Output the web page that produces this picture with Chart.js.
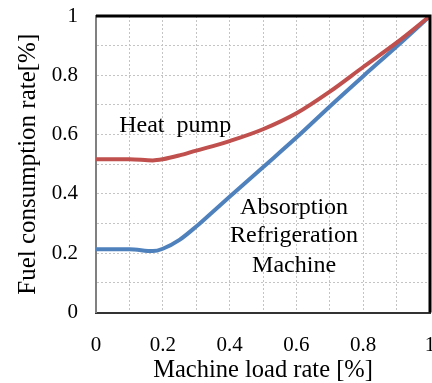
<!DOCTYPE html>
<html>
<head>
<meta charset="utf-8">
<script src="https://cdn.jsdelivr.net/npm/chart.js@4"></script>
<style>
  html, body { margin: 0; padding: 0; background: #fff; overflow: hidden; }
  #wrap { width: 432px; height: 383px; }
</style>
</head>
<body>
<div id="wrap"><canvas id="fuelChart" width="432" height="383"></canvas></div>
<script>
// machine load rate (x) and fuel consumption rate (y)
const loadRate   = [0, 0.1, 0.17, 0.2, 0.25, 0.3, 0.35, 0.4, 0.5, 0.6, 0.7, 0.8, 0.9, 1];
const heatPump   = [0.517, 0.517, 0.513, 0.517, 0.53, 0.546, 0.561, 0.578, 0.618, 0.672, 0.745, 0.828, 0.91, 1];
const absorption = [0.213, 0.213, 0.207, 0.215, 0.245, 0.29, 0.34, 0.39, 0.49, 0.59, 0.695, 0.797, 0.897, 1];

const serif = "'Liberation Serif', 'Times New Roman', serif";

const toPoints = ys => ys.map((y, i) => ({ x: loadRate[i], y: y }));
const tickLabel = v => (Math.round(v * 10) % 2 === 0 ? String(+v.toFixed(1)) : "");

// labels written inside the plot
const notes = [
  { text: "Heat  pump", x: 0.237, y: 0.63 },
  { text: "Absorption", x: 0.593, y: 0.355 },
  { text: "Refrigeration", x: 0.593, y: 0.258 },
  { text: "Machine", x: 0.593, y: 0.157 }
];

const framePlugin = {
  id: "frame",
  afterDatasetsDraw(chart) {
    const { ctx, chartArea: a, scales } = chart;
    ctx.save();
    ctx.strokeStyle = "#000";
    ctx.lineWidth = 3;
    ctx.beginPath();
    ctx.moveTo(a.left, a.top);
    ctx.lineTo(a.right, a.top);
    ctx.lineTo(a.right, a.bottom);
    ctx.stroke();

    ctx.fillStyle = "#000";
    ctx.font = "24px " + serif;
    ctx.textAlign = "center";
    ctx.textBaseline = "middle";
    notes.forEach(n => {
      ctx.fillText(n.text, scales.x.getPixelForValue(n.x), scales.y.getPixelForValue(n.y));
    });
    ctx.restore();
  }
};

const ctx = document.getElementById("fuelChart").getContext("2d");

new Chart(ctx, {
  type: "line",
  data: {
    datasets: [
      {
        label: "Heat pump",
        data: toPoints(heatPump),
        borderColor: "#C0504D",
        borderWidth: 4,
        pointRadius: 0,
        cubicInterpolationMode: "monotone"
      },
      {
        label: "Absorption Refrigeration Machine",
        data: toPoints(absorption),
        borderColor: "#4F81BD",
        borderWidth: 4,
        pointRadius: 0,
        cubicInterpolationMode: "monotone"
      }
    ]
  },
  options: {
    responsive: false,
    animation: false,
    layout: { padding: { top: 16, right: 2, left: 0, bottom: 0 } },
    plugins: {
      legend: { display: false },
      tooltip: { enabled: false }
    },
    scales: {
      x: {
        type: "linear",
        min: 0,
        max: 1,
        ticks: {
          stepSize: 0.1,
          autoSkip: false,
          maxRotation: 0,
          padding: 20,
          color: "#000",
          font: { family: serif, size: 21 },
          callback: tickLabel
        },
        grid: { color: "#c4c4c4", lineWidth: 1, drawTicks: false },
        border: { color: "#333", width: 2, dash: [2, 2] },
        title: {
          display: true,
          text: "Machine load rate [%]",
          color: "#000",
          font: { family: serif, size: 24.5, lineHeight: 1 },
          padding: { top: 0, bottom: 0 }
        },
        afterFit: s => {
          s.height = 70.5;
          s.paddingLeft = 0;
          s.paddingRight = 0;
        }
      },
      y: {
        min: 0,
        max: 1,
        ticks: {
          stepSize: 0.1,
          autoSkip: false,
          padding: 18,
          color: "#000",
          font: { family: serif, size: 21 },
          callback: tickLabel
        },
        grid: { color: "#c4c4c4", lineWidth: 1, drawTicks: false },
        border: { color: "#808080", width: 2, dash: [2, 2] },
        title: {
          display: true,
          text: "Fuel consumption rate[%]",
          color: "#000",
          font: { family: serif, size: 25, lineHeight: 1 },
          padding: { top: 15.5, bottom: 0 }
        },
        afterFit: s => {
          s.width = 96;
          s.paddingTop = 0;
          s.paddingBottom = 0;
        }
      }
    }
  },
  plugins: [framePlugin]
});
</script>
</body>
</html>
